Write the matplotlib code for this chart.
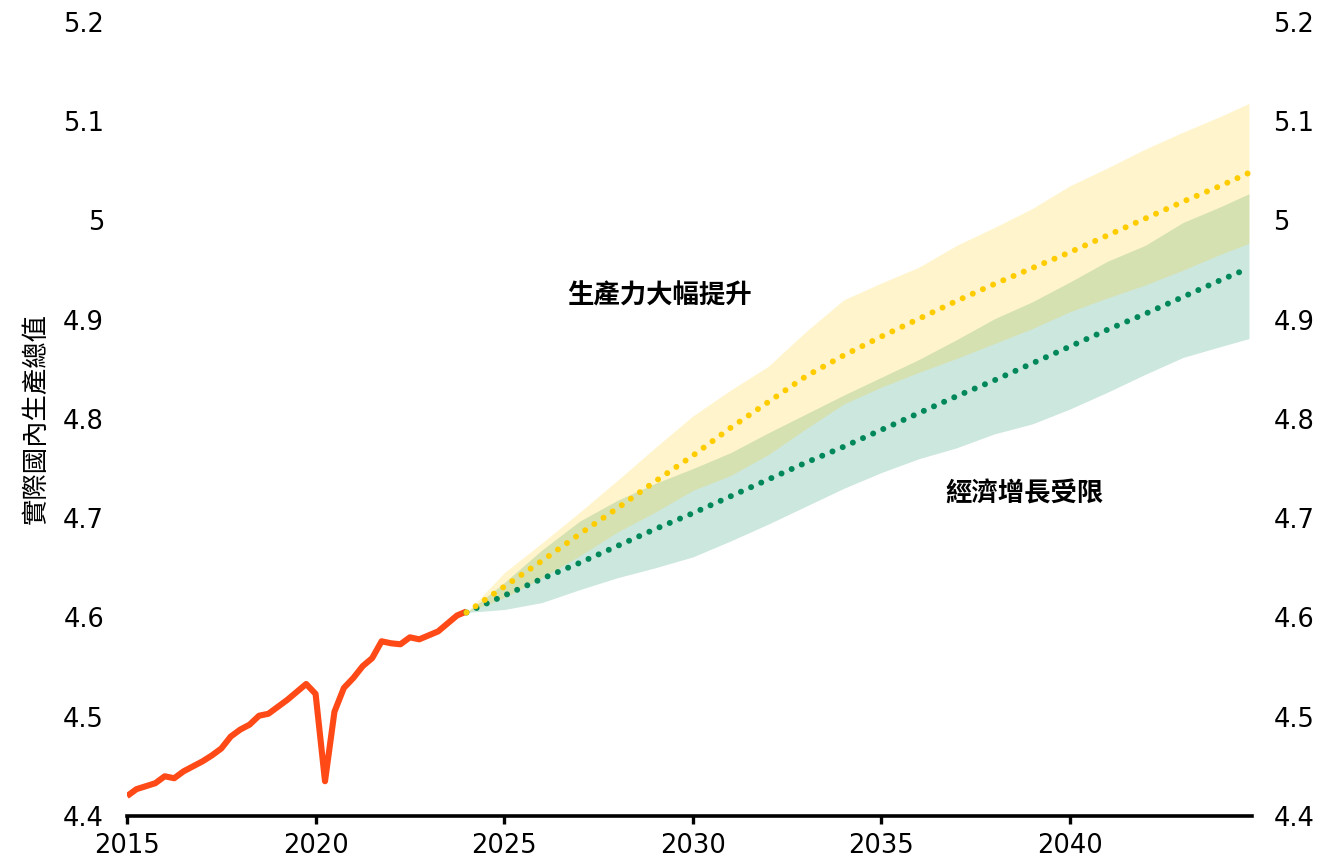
import matplotlib
matplotlib.use("Agg")
import matplotlib.pyplot as plt
import numpy as np

# ---------------- data ----------------
hist_x = [2015 + 0.25 * i for i in range(37)]
hist_y = [4.420, 4.427, 4.430, 4.433, 4.440, 4.438, 4.445, 4.450, 4.455, 4.461,
          4.468, 4.480, 4.487, 4.492, 4.501, 4.503, 4.510, 4.517, 4.525, 4.533,
          4.523, 4.435, 4.505, 4.529, 4.539, 4.551, 4.559, 4.576, 4.574, 4.573,
          4.580, 4.578, 4.582, 4.586, 4.594, 4.602, 4.606]

fc_x = [2024, 2025, 2026, 2027, 2028, 2029, 2030, 2031, 2032, 2033, 2034,
        2035, 2036, 2037, 2038, 2039, 2040, 2041, 2042, 2043, 2044, 2044.75]

high_mid = [4.605, 4.631, 4.657, 4.684, 4.710, 4.737, 4.763, 4.791, 4.817, 4.843, 4.864,
            4.883, 4.901, 4.919, 4.936, 4.952, 4.968, 4.985, 5.002, 5.019, 5.035, 5.048]
high_up = [4.605, 4.645, 4.675, 4.706, 4.738, 4.771, 4.803, 4.829, 4.853, 4.888, 4.920,
           4.937, 4.953, 4.975, 4.993, 5.012, 5.035, 5.053, 5.072, 5.089, 5.105, 5.118]
high_lo = [4.605, 4.620, 4.640, 4.662, 4.686, 4.706, 4.728, 4.743, 4.764, 4.790, 4.815,
           4.832, 4.847, 4.861, 4.876, 4.891, 4.908, 4.922, 4.935, 4.950, 4.966, 4.977]

low_mid = [4.605, 4.622, 4.639, 4.655, 4.672, 4.689, 4.705, 4.722, 4.739, 4.756, 4.772,
           4.789, 4.806, 4.823, 4.839, 4.856, 4.873, 4.890, 4.906, 4.923, 4.940, 4.952]
low_up = [4.605, 4.635, 4.668, 4.697, 4.718, 4.735, 4.750, 4.766, 4.786, 4.805, 4.824,
          4.842, 4.860, 4.880, 4.901, 4.918, 4.938, 4.959, 4.975, 4.998, 5.014, 5.027]
low_lo = [4.605, 4.608, 4.615, 4.628, 4.640, 4.650, 4.661, 4.677, 4.694, 4.712, 4.730,
          4.746, 4.760, 4.771, 4.785, 4.795, 4.810, 4.827, 4.845, 4.862, 4.873, 4.881]

y_ticks = [4.4, 4.5, 4.6, 4.7, 4.8, 4.9, 5.0, 5.1, 5.2]
y_tick_labels = ["4.4", "4.5", "4.6", "4.7", "4.8", "4.9", "5", "5.1", "5.2"]
x_ticks = [2015, 2020, 2025, 2030, 2035, 2040]
x_tick_labels = ["2015", "2020", "2025", "2030", "2035", "2040"]

label_high = "生產力大幅提升"
label_low = "經濟增長受限"
y_label = "實際國內生產總值"

# ---------------- style ----------------
ORANGE = "#FF4A17"
YELLOW = "#FFCC00"
GREEN = "#00875A"
CJK = ["Noto Sans CJK TC", "DejaVu Sans"]
NUM_FONT = ["DejaVu Sans"]
NUM_SIZE = 18.5

fig = plt.figure(figsize=(13.19, 8.63), dpi=100)
ax = fig.add_axes([0.0963, 0.0545, 0.9492 - 0.0963, 0.9745 - 0.0545])

ax.fill_between(fc_x, low_lo, low_up, color=GREEN, alpha=0.2, lw=0, zorder=1)
ax.fill_between(fc_x, high_lo, high_up, color=YELLOW, alpha=0.2, lw=0, zorder=2)

ax.plot(hist_x, hist_y, color=ORANGE, lw=4.4, solid_capstyle="butt",
        solid_joinstyle="round", zorder=5)

dot_style = (0, (0.01, 1.85))
ax.plot(fc_x, low_mid, color=GREEN, lw=4.3, linestyle=dot_style,
        dash_capstyle="round", zorder=6)
ax.plot(fc_x, high_mid, color=YELLOW, lw=4.3, linestyle=dot_style,
        dash_capstyle="round", zorder=7)

ax.set_xlim(2015, 2044.83)
ax.set_ylim(4.4, 5.2)

# right-hand duplicate of the value axis
ax2 = ax.twinx()
ax2.set_ylim(ax.get_ylim())
ax2.set_yticks(y_ticks)
ax2.set_yticklabels(y_tick_labels, fontfamily=NUM_FONT, fontsize=NUM_SIZE)
ax2.tick_params(axis="y", left=False, right=False, labelleft=False,
                labelright=True, pad=12)
for s in ["top", "left", "right", "bottom"]:
    ax2.spines[s].set_visible(False)

ax.set_yticks(y_ticks)
ax.set_yticklabels(y_tick_labels, fontfamily=NUM_FONT, fontsize=NUM_SIZE)
ax.set_xticks(x_ticks)
ax.set_xticklabels(x_tick_labels, fontfamily=NUM_FONT, fontsize=NUM_SIZE)

ax.tick_params(axis="y", left=False, right=False, labelleft=True,
               labelright=False, pad=13)
ax.tick_params(axis="x", direction="out", length=6, width=2.4, pad=6,
               color="black")

for s in ["top", "left", "right"]:
    ax.spines[s].set_visible(False)
ax.spines["bottom"].set_linewidth(2.6)
ax.spines["bottom"].set_color("black")
ax.spines["bottom"].set_zorder(10)

ax.set_ylabel(y_label, fontfamily=CJK, fontsize=19)
ax.yaxis.set_label_coords(-0.0684, 0.5)

ax.text(2029.13, 4.924, label_high, fontfamily=CJK, fontsize=19,
        fontweight="bold", ha="center", va="center", zorder=9)
ax.text(2038.81, 4.724, label_low, fontfamily=CJK, fontsize=19,
        fontweight="bold", ha="center", va="center", zorder=9)

fig.savefig("out.png", dpi=100)
